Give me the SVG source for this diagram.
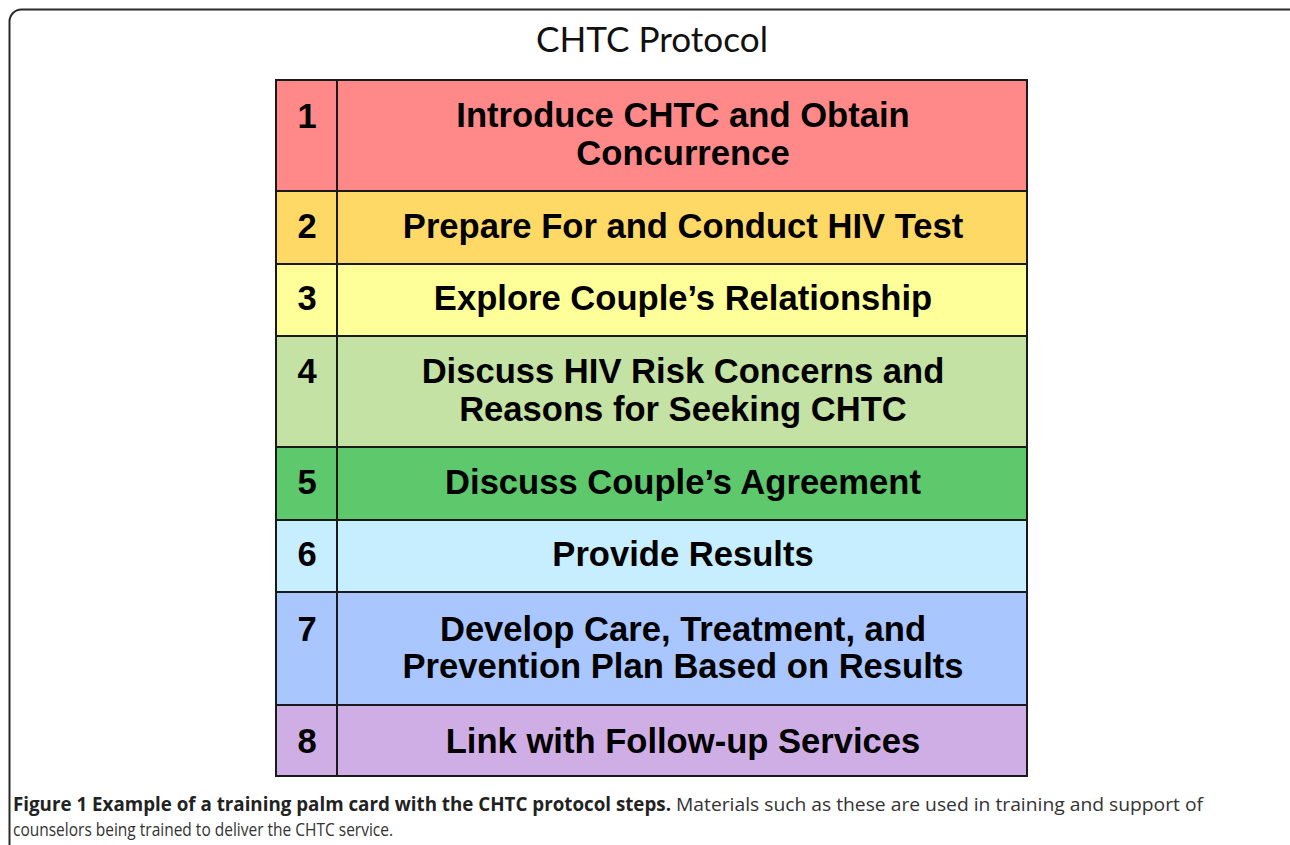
<svg xmlns="http://www.w3.org/2000/svg" width="1290" height="845" viewBox="0 0 1290 845">
<style>
.frame{fill:#fff;stroke:#2a2a2a;stroke-width:2}
.cell{stroke:#1a1a1a;stroke-width:2}
.step{font-family:"Liberation Sans",Arial,sans-serif;font-weight:bold;font-size:34.6px;fill:#000;text-anchor:middle}
.title{font-family:Lato,"Open Sans",sans-serif;font-size:35px;fill:#111;text-anchor:middle}
.capb{font-family:"Open Sans","Liberation Sans",sans-serif;font-weight:bold;font-size:19px;fill:#222}
.cap{font-family:"Open Sans","Liberation Sans",sans-serif;font-size:19px;fill:#333}
</style>
<rect class="frame" x="9.5" y="9.5" width="1291" height="900" rx="12"/>
<text class="title" x="652" y="52" textLength="232" lengthAdjust="spacingAndGlyphs">CHTC Protocol</text>
<g id="step1">
<rect class="cell" x="276" y="80" width="61" height="111" fill="#FF8989"/>
<rect class="cell" x="337" y="80" width="690" height="111" fill="#FF8989"/>
<text class="step" x="307" y="128">1</text>
<text class="step" x="683" y="127">Introduce CHTC and Obtain</text>
<text class="step" x="683" y="165">Concurrence</text>
</g>
<g id="step2">
<rect class="cell" x="276" y="191" width="61" height="73" fill="#FFD966"/>
<rect class="cell" x="337" y="191" width="690" height="73" fill="#FFD966"/>
<text class="step" x="307" y="238">2</text>
<text class="step" x="683" y="238">Prepare For and Conduct HIV Test</text>
</g>
<g id="step3">
<rect class="cell" x="276" y="264" width="61" height="72" fill="#FFFF99"/>
<rect class="cell" x="337" y="264" width="690" height="72" fill="#FFFF99"/>
<text class="step" x="307" y="310">3</text>
<text class="step" x="683" y="310">Explore Couple’s Relationship</text>
</g>
<g id="step4">
<rect class="cell" x="276" y="336" width="61" height="111" fill="#C4E2A4"/>
<rect class="cell" x="337" y="336" width="690" height="111" fill="#C4E2A4"/>
<text class="step" x="307" y="383">4</text>
<text class="step" x="683" y="383">Discuss HIV Risk Concerns and</text>
<text class="step" x="683" y="421">Reasons for Seeking CHTC</text>
</g>
<g id="step5">
<rect class="cell" x="276" y="447" width="61" height="73" fill="#5DC86C"/>
<rect class="cell" x="337" y="447" width="690" height="73" fill="#5DC86C"/>
<text class="step" x="307" y="494">5</text>
<text class="step" x="683" y="494">Discuss Couple’s Agreement</text>
</g>
<g id="step6">
<rect class="cell" x="276" y="520" width="61" height="72" fill="#C6EEFF"/>
<rect class="cell" x="337" y="520" width="690" height="72" fill="#C6EEFF"/>
<text class="step" x="307" y="566">6</text>
<text class="step" x="683" y="566">Provide Results</text>
</g>
<g id="step7">
<rect class="cell" x="276" y="592" width="61" height="113" fill="#A9C6FF"/>
<rect class="cell" x="337" y="592" width="690" height="113" fill="#A9C6FF"/>
<text class="step" x="307" y="641">7</text>
<text class="step" x="683" y="641">Develop Care, Treatment, and</text>
<text class="step" x="683" y="678">Prevention Plan Based on Results</text>
</g>
<g id="step8">
<rect class="cell" x="276" y="705" width="61" height="71" fill="#CFAEE6"/>
<rect class="cell" x="337" y="705" width="690" height="71" fill="#CFAEE6"/>
<text class="step" x="307" y="753">8</text>
<text class="step" x="683" y="753">Link with Follow-up Services</text>
</g>
<g id="connectors"></g>
<g id="caption">
<text class="capb" x="13" y="811" textLength="658" lengthAdjust="spacingAndGlyphs">Figure 1 Example of a training palm card with the CHTC protocol steps.</text>
<text class="cap" x="676" y="811" textLength="527" lengthAdjust="spacingAndGlyphs">Materials such as these are used in training and support of</text>
<text class="cap" x="13" y="836" textLength="380" lengthAdjust="spacingAndGlyphs">counselors being trained to deliver the CHTC service.</text>
</g>
</svg>
